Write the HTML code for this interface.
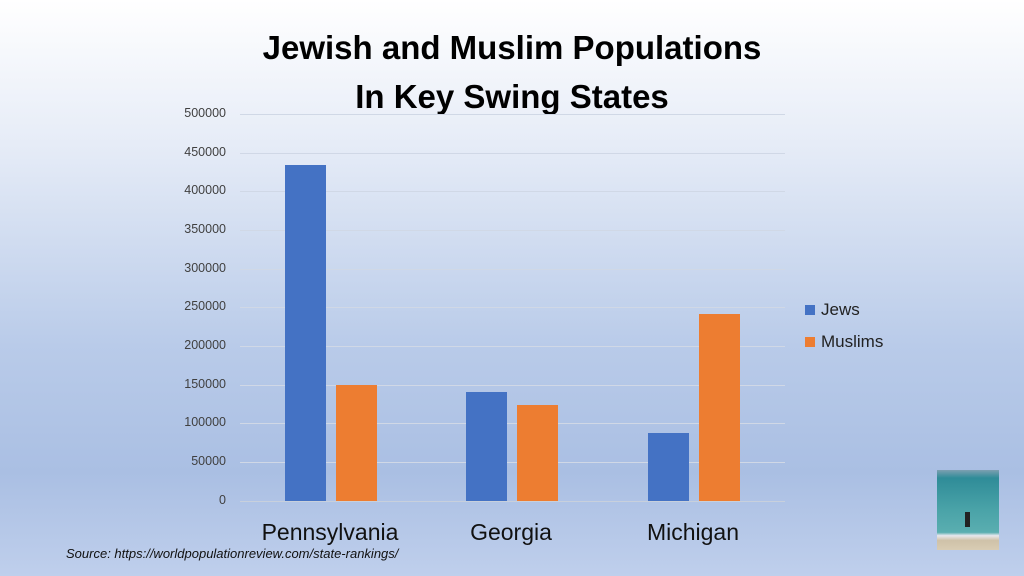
<!DOCTYPE html>
<html><head><meta charset="utf-8"><style>
body{margin:0;width:1024px;height:576px;overflow:hidden;font-family:"Liberation Sans",sans-serif;
background:linear-gradient(180deg,#ffffff 0%,#e6ecf7 25%,#b9cbe9 60%,#aabfe3 82%,#bfcfec 100%);position:relative}
.t{position:absolute;left:0;width:1024px;text-align:center;font-weight:bold;font-size:33px;color:#000;line-height:38px}
.y{position:absolute;width:80px;left:146px;text-align:right;font-size:12.5px;color:#404040}
.g{position:absolute;left:240px;width:545px;height:1px;background:#d0d8e6}
.b{position:absolute;width:41px}
.c{position:absolute;font-size:23px;color:#111;text-align:center;width:200px}
</style></head><body>
<div class="t" style="top:29px">Jewish and Muslim Populations</div>
<div class="t" style="top:78px">In Key Swing States</div>
<div class="g" style="top:114px"></div><div class="y" style="top:106px">500000</div>
<div class="g" style="top:153px"></div><div class="y" style="top:145px">450000</div>
<div class="g" style="top:191px"></div><div class="y" style="top:183px">400000</div>
<div class="g" style="top:230px"></div><div class="y" style="top:222px">350000</div>
<div class="g" style="top:269px"></div><div class="y" style="top:261px">300000</div>
<div class="g" style="top:307px"></div><div class="y" style="top:299px">250000</div>
<div class="g" style="top:346px"></div><div class="y" style="top:338px">200000</div>
<div class="g" style="top:385px"></div><div class="y" style="top:377px">150000</div>
<div class="g" style="top:423px"></div><div class="y" style="top:415px">100000</div>
<div class="g" style="top:462px"></div><div class="y" style="top:454px">50000</div>
<div class="g" style="top:501px;background:#c8d0dc"></div><div class="y" style="top:493px">0</div>
<div class="b" style="left:285px;top:165px;height:336px;background:#4472c4"></div>
<div class="b" style="left:336px;top:385px;height:116px;background:#ed7d31"></div>
<div class="b" style="left:466px;top:392px;height:109px;background:#4472c4"></div>
<div class="b" style="left:517px;top:405px;height:96px;background:#ed7d31"></div>
<div class="b" style="left:648px;top:433px;height:68px;background:#4472c4"></div>
<div class="b" style="left:699px;top:314px;height:187px;background:#ed7d31"></div>
<div class="c" style="left:230px;top:519px">Pennsylvania</div>
<div class="c" style="left:411px;top:519px">Georgia</div>
<div class="c" style="left:593px;top:519px">Michigan</div>
<div style="position:absolute;left:805px;top:305px;width:10px;height:10px;background:#4472c4"></div>
<div style="position:absolute;left:821px;top:300px;font-size:17px;color:#222">Jews</div>
<div style="position:absolute;left:805px;top:337px;width:10px;height:10px;background:#ed7d31"></div>
<div style="position:absolute;left:821px;top:332px;font-size:17px;color:#222">Muslims</div>
<div style="position:absolute;left:66px;top:546px;font-size:13px;font-style:italic;color:#111">Source: https://worldpopulationreview.com/state-rankings/</div>
<div style="position:absolute;left:937px;top:470px;width:62px;height:80px;background:linear-gradient(180deg,#7d9fb0 0%,#2f8c98 10%,#4aa3a8 50%,#5aaeb0 78%,#e8e8ee 82%,#cfc2a8 88%,#d8ccb4 100%)">
<div style="position:absolute;left:28px;top:42px;width:5px;height:15px;background:#222"></div></div>
</body></html>
